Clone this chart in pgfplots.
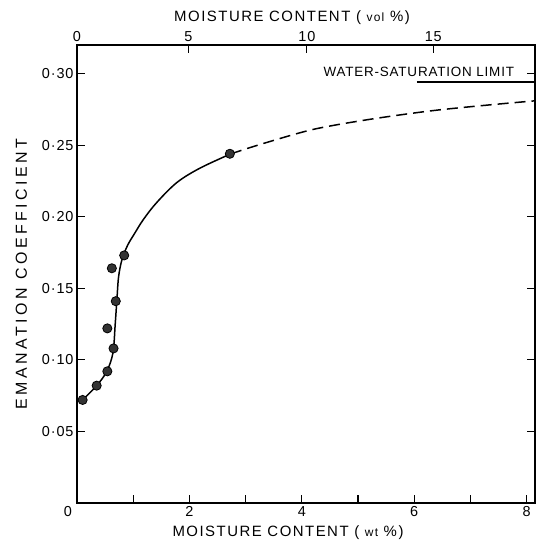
\documentclass[border=0pt]{standalone}
\usepackage{pgfplots}
\pgfplotsset{compat=1.18}
\usepackage{fontspec}
\setmainfont{Liberation Sans}[LetterSpace=6]
\newfontfamily\lsA{Liberation Sans}[LetterSpace=10]
\newfontfamily\lsB{Liberation Sans}[LetterSpace=22]
\newcommand{\lab}{\fontsize{13.5}{15}\selectfont}
\newcommand{\xlab}{\lsA\fontsize{15}{17}\selectfont}
\newcommand{\ylab}{\lsB\fontsize{16}{18}\selectfont}
\newcommand{\tlab}{\fontsize{14.5}{16}\selectfont}

\begin{document}
\begin{tikzpicture}
\pgfplotsset{every axis/.append style={
  scale only axis, width=458bp, height=458bp,
  xmin=0, xmax=8.15, ymin=0, ymax=0.32,
  axis line style={line width=1.6pt},
  tick style={line width=1.2pt, black},
  major tick length=8bp,
  tick align=inside,
  /pgf/number format/assume math mode=true,
}}
\begin{axis}[
  xtick={0,1,2,3,4,5,6,7,8},
  xticklabels={\llap{0\hspace{5bp}},,2,,4,,6,,8},
  xtick pos=bottom,
  ytick={0.05,0.10,0.15,0.20,0.25,0.30},
  yticklabels={0·05,0·10,0·15,0·20,0·25,0·30},
  ytick pos=both,
  yticklabel pos=left,
  ticklabel style={font=\tlab},
  xlabel={MOISTURE CONTENT ( {\fontsize{12}{13}\selectfont wt} \%)},
  ylabel={EMANATION COEFFICIENT},
  xlabel style={font=\xlab, xshift=-18bp, yshift=-2bp},
  ylabel style={font=\ylab, yshift=8bp},
  clip=true,
]
\addplot[black, line width=1.5pt, smooth, tension=0.55] coordinates {
  (0.10,0.072) (0.35,0.082) (0.53,0.092) (0.64,0.105) (0.68,0.125)
  (0.71,0.142) (0.74,0.158) (0.80,0.170) (0.90,0.180) (1.02,0.188)
  (1.18,0.198) (1.42,0.210) (1.78,0.224) (2.19,0.234) (2.74,0.244)
};
\addplot[black, line width=1.5pt, smooth, dash pattern=on 11bp off 6bp] coordinates {
  (2.74,0.244) (3.3,0.251) (4.2,0.261) (5.2,0.268) (6.3,0.274) (7.3,0.278) (8.15,0.281)
};
\addplot[only marks, mark=*, mark size=4.6pt,
  mark options={fill=black!80, draw=black, line width=0.8pt}] coordinates {
  (0.10,0.072) (0.35,0.082) (0.54,0.092) (0.65,0.108) (0.54,0.122)
  (0.69,0.141) (0.62,0.164) (0.84,0.173) (2.72,0.244)
};
\addplot[black, line width=1.5pt] coordinates {(6.05,0.294) (8.15,0.294)};
\node[anchor=east, font=\lab, inner sep=0pt] at (axis cs:7.78,0.301) {WATER-SATURATION LIMIT};
\end{axis}
\begin{axis}[
  axis x line*=top,
  axis y line=none,
  xtick={0,1.98,4.09,6.34},
  xticklabels={0,5,10,15},
  ticklabel style={font=\tlab},
  xlabel={MOISTURE CONTENT ( {\fontsize{12}{13}\selectfont vol} \%)},
  xlabel style={font=\xlab, xshift=-14bp},
]
\end{axis}
\pgfresetboundingbox
\path (-77bp,-45bp) rectangle (459bp,503bp);
\end{tikzpicture}
\end{document}
